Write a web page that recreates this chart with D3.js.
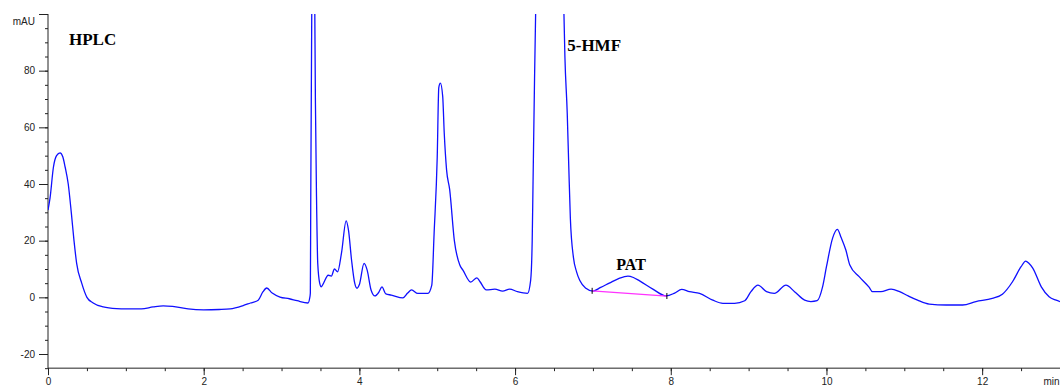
<!DOCTYPE html>
<html>
<head>
<meta charset="utf-8">
<script src="https://cdn.jsdelivr.net/npm/d3@7"></script>
<style>
  body { margin: 0; background: #fff; }
  svg { display: block; }
  .tick text { font-family: "Liberation Sans", Arial, sans-serif; font-size: 10px; fill: #222; }
  .lbl { font-family: "Liberation Serif", "Times New Roman", serif; font-weight: bold; fill: #000; }
</style>
</head>
<body>
<div id="chart"></div>
<script>
// retention time (min) and detector signal (mAU)
const times = [0.00, 0.026, 0.07, 0.11, 0.155, 0.19, 0.22, 0.26, 0.30, 0.334, 0.368, 0.433, 0.50, 0.58, 0.71, 0.88,
  1.00, 1.20, 1.35, 1.48, 1.60, 1.80, 2.00, 2.20, 2.34, 2.50, 2.60, 2.70, 2.76, 2.81, 2.88, 2.98,
  3.10, 3.20, 3.34, 3.36, 3.37, 3.375, 3.39, 3.41, 3.425, 3.435, 3.45, 3.465, 3.49, 3.51, 3.53, 3.60,
  3.64, 3.68, 3.72, 3.77, 3.83, 3.86, 3.90, 3.94, 3.97, 4.00, 4.06, 4.10, 4.15, 4.20, 4.25, 4.29,
  4.34, 4.41, 4.56, 4.62, 4.67, 4.75, 4.88, 4.93, 4.96, 5.00, 5.02, 5.04, 5.07, 5.09, 5.12, 5.16,
  5.22, 5.29, 5.33, 5.43, 5.51, 5.55, 5.63, 5.74, 5.84, 5.93, 6.03, 6.16, 6.20, 6.22, 6.23,
  6.25, 6.27, 6.35, 6.44, 6.55, 6.62, 6.64, 6.67, 6.69, 6.71, 6.75, 6.79, 6.83, 6.91, 7.00, 7.10,
  7.21, 7.33, 7.45, 7.52, 7.60, 7.77, 7.94, 8.05, 8.14, 8.24, 8.37, 8.54, 8.67, 8.82, 8.95, 9.03,
  9.12, 9.23, 9.33, 9.48, 9.59, 9.72, 9.80, 9.88, 9.95, 10.00, 10.08, 10.14, 10.19, 10.25, 10.30, 10.42,
  10.55, 10.59, 10.70, 10.83, 10.94, 11.05, 11.17, 11.32, 11.54, 11.75, 11.92, 12.13, 12.26, 12.39, 12.50, 12.56,
  12.60, 12.65, 12.76, 12.86, 12.95, 13.00];
const signal = [30.8, 35, 46, 50, 51, 49.6, 46, 40, 29.7, 20, 12, 5, 0, -2, -3.4, -4,
  -4.1, -4.1, -3.4, -3, -3.2, -4.1, -4.4, -4.3, -4.1, -3, -2, -1, 1.9, 3.3, 1.5, 0.1,
  -0.5, -1.2, -2, -0.5, 1.5, 32, 110, 145, 110, 69.5, 34, 12, 5, 3.7, 4.5, 7.8,
  7.5, 10, 9, 15.6, 27, 23.7, 13, 5, 3.2, 4.5, 12, 9.6, 2.6, 0.5, 1.8, 3.7,
  1.2, 0.8, -0.2, 1.5, 2.6, 1.4, 1.4, 4.3, 22.6, 49.5, 74, 75.6, 71, 58, 45, 38,
  20, 11.4, 9.6, 5.4, 6.9, 5.5, 2.6, 2.9, 2.2, 2.9, 2, 1.4, 6, 20, 39,
  77, 110, 200, 260, 200, 110, 85, 65, 46, 28, 14, 9, 6, 3.2, 2.2, 3.5,
  5, 6.6, 7.5, 7, 5.8, 2.9, 0.5, 1.5, 2.8, 2, 1.4, -1, -2.1, -2.1, -1.2, 2,
  4.3, 2, 1.4, 4.3, 2, -1, -1.5, -1.2, 3.7, 10.8, 21, 24, 21, 16.6, 11.4, 7.3,
  3.5, 2, 2, 2.9, 2, 0.5, -1, -2.4, -2.7, -2.7, -1.5, -0.4, 1.1, 5.5, 10.8, 12.8,
  12, 10.3, 3.7, 0.2, -1, -1.5];

// PAT integration baseline
const patBaseT = [6.99, 7.95];
const patBaseV = [2.3, 0.46];

const labels = [
  { text: "HPLC", t: 0.27, v: 89, size: 17 },
  { text: "5-HMF", t: 6.67, v: 87, size: 17 },
  { text: "PAT", t: 7.3, v: 9.5, size: 16 }
];

const width = 1060, height = 387;
const margin = { left: 48, right: 0, top: 14, bottom: 19 };

const svg = d3.select("#chart").append("svg")
  .attr("width", width)
  .attr("height", height);

const x = d3.scaleLinear().domain([0, 13]).range([margin.left, width - margin.right]);
const y = d3.scaleLinear().domain([-20, 100]).range([354, margin.top]);
const yBottom = y(-25);

// minor + major ticks, y
svg.append("g")
  .attr("transform", `translate(${margin.left},0)`)
  .call(d3.axisLeft(y).tickValues(d3.range(-25, 101, 5)).tickSize(3).tickFormat(""))
  .call(g => g.select(".domain").remove());

svg.append("g")
  .attr("transform", `translate(${margin.left},0)`)
  .call(d3.axisLeft(y).tickValues(d3.range(-20, 101, 20)).tickSize(9).tickPadding(4)
    .tickFormat(d => d === 100 ? "mAU" : d))
  .call(g => g.select(".domain").remove())
  .call(g => g.selectAll(".tick text").filter(d => d === 100).attr("dy", "1.0em"));

// ticks, x
svg.append("g")
  .attr("transform", `translate(0,${yBottom})`)
  .call(d3.axisBottom(x).tickValues(d3.range(0, 13.01, 0.5)).tickSize(3).tickFormat(""))
  .call(g => g.select(".domain").remove());

svg.append("g")
  .attr("transform", `translate(0,${yBottom})`)
  .call(d3.axisBottom(x).tickValues([0, 2, 4, 6, 8, 10, 12, 13]).tickSize(7).tickPadding(3)
    .tickFormat(d => d === 13 ? "min" : d))
  .call(g => g.select(".domain").remove())
  .call(g => g.selectAll(".tick text").filter(d => d === 13).attr("text-anchor", "end").attr("x", -1));

svg.selectAll(".tick line").attr("stroke", "#222");

// axis lines
svg.append("line")
  .attr("x1", margin.left).attr("x2", margin.left)
  .attr("y1", y(100)).attr("y2", yBottom)
  .attr("stroke", "#222");
svg.append("line")
  .attr("x1", margin.left).attr("x2", x(13))
  .attr("y1", yBottom).attr("y2", yBottom)
  .attr("stroke", "#222");

// clip trace to plot area
svg.append("clipPath").attr("id", "plot")
  .append("rect")
  .attr("x", margin.left).attr("y", y(100))
  .attr("width", x(13) - margin.left).attr("height", yBottom - y(100));

const trace = times.map((t, i) => [t, signal[i]]);

const line = d3.line()
  .x(d => x(d[0]))
  .y(d => y(d[1]))
  .curve(d3.curveMonotoneX);

svg.append("path")
  .datum(trace)
  .attr("clip-path", "url(#plot)")
  .attr("fill", "none")
  .attr("stroke", "#1010ff")
  .attr("stroke-width", 1.3)
  .attr("d", line);

// PAT baseline with start/end marks
const base = patBaseT.map((t, i) => [t, patBaseV[i]]);
svg.append("path")
  .datum(base)
  .attr("fill", "none")
  .attr("stroke", "#ff33ff")
  .attr("stroke-width", 1.3)
  .attr("d", d3.line().x(d => x(d[0])).y(d => y(d[1])));

svg.selectAll(".bmark")
  .data(base)
  .enter().append("line")
  .attr("class", "bmark")
  .attr("x1", d => x(d[0])).attr("x2", d => x(d[0]))
  .attr("y1", d => y(d[1]) - 3).attr("y2", d => y(d[1]) + 3)
  .attr("stroke", "#000")
  .attr("stroke-width", 1);

svg.selectAll(".lbl")
  .data(labels)
  .enter().append("text")
  .attr("class", "lbl")
  .attr("x", d => x(d.t))
  .attr("y", d => y(d.v))
  .style("font-size", d => d.size + "px")
  .text(d => d.text);
</script>
</body>
</html>
